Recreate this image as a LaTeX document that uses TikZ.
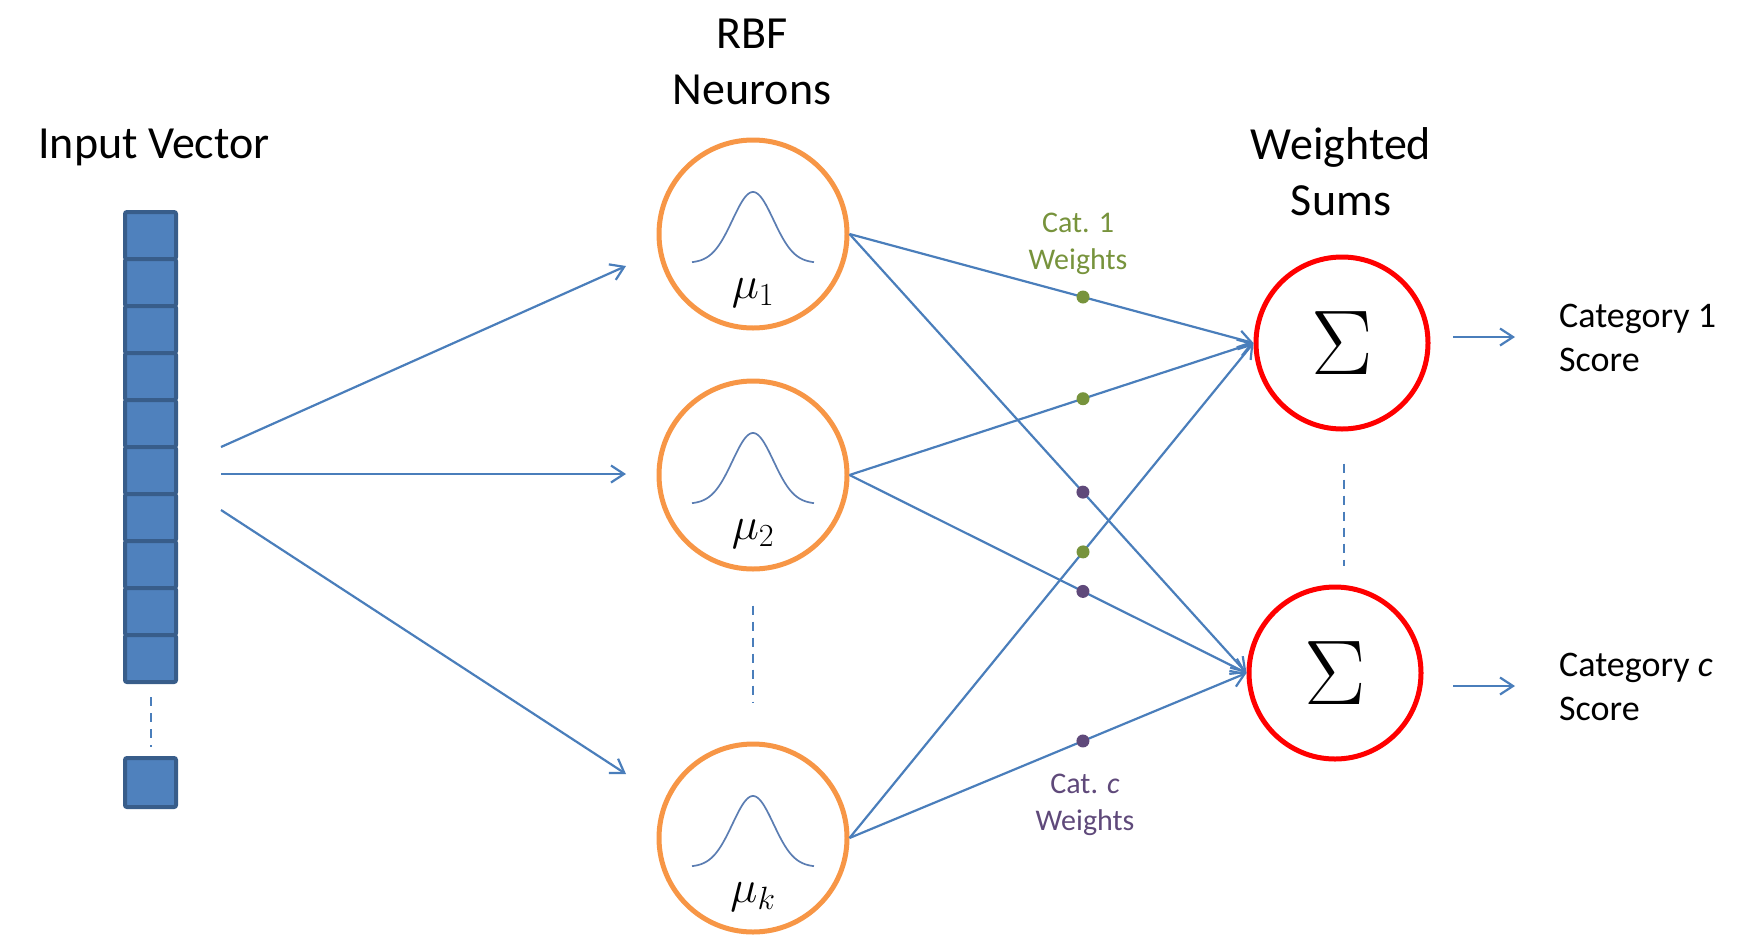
\RequirePackage{fix-cm}
\documentclass[tikz,border=0pt]{standalone}
\usepackage{fontspec}
\setmainfont{Carlito}
\usetikzlibrary{arrows.meta,calc}

\definecolor{linkblue}{HTML}{4A7EBB}
\definecolor{curveblue}{HTML}{5B7DB2}
\definecolor{cellfill}{HTML}{4F81BD}
\definecolor{cellline}{HTML}{385D8A}
\definecolor{rbforange}{HTML}{F79646}
\definecolor{sumred}{HTML}{FF0000}
\definecolor{catgreen}{HTML}{77933C}
\definecolor{catpurple}{HTML}{5F497A}

\tikzset{
  link/.style={draw=linkblue, line width=2.2pt,
    -{Straight Barb[length=13pt,width=17pt,line width=2.2pt]}},
  ellipsis/.style={draw=linkblue, line width=1.6pt, dash pattern=on 9pt off 7pt},
  cell/.style={fill=cellfill, draw=cellline, line width=4pt, rounded corners=2pt},
  rbf/.style={circle, draw=rbforange, line width=5pt, minimum size=188pt, inner sep=0pt},
  sumnode/.style={circle, draw=sumred, line width=5pt, minimum size=172pt, inner sep=0pt,
    font=\fontsize{92}{92}\selectfont},
  gauss/.style={draw=curveblue, line width=1.7pt},
  mulabel/.style={font=\fontsize{46}{46}\selectfont},
  head/.style={font=\fontsize{46}{56}\selectfont, align=center, inner sep=0pt},
  outlabel/.style={font=\fontsize{36}{44}\selectfont, align=left, anchor=west, inner sep=0pt},
  catlabel/.style={font=\fontsize{30}{37}\selectfont, align=center, inner sep=0pt},
  gdot/.style={circle, fill=catgreen, inner sep=0pt, minimum size=13pt},
  pdot/.style={circle, fill=catpurple, inner sep=0pt, minimum size=13pt},
}

\begin{document}
\begin{tikzpicture}[x=1pt, y=-1pt]
\useasboundingbox (0,0) rectangle (1753,935);

% headings
\node[head] (hin)  at (154,147)  {Input Vector};
\node[head] (hrbf) at (752,62)   {RBF\\Neurons};
\node[head] (hsum) at (1341,172) {Weighted\\Sums};

% input vector: ten cells, a gap, and the last cell
\foreach \i in {0,...,9}
  \draw[cell] (125,{212+47*\i}) rectangle (176,{212+47*(\i+1)});
\draw[cell] (125,758) rectangle (176,807);
\coordinate (vtop) at (151,697);
\coordinate (vbot) at (151,747);
\draw[ellipsis] (vtop) -- (vbot);

% RBF neurons
\node[rbf] (r1) at (753,234) {};
\node[rbf] (r2) at (753,475) {};
\node[rbf] (rk) at (753,838) {};
\foreach \n/\lab in {r1/1, r2/2, rk/k} {
  \draw[gauss, shift={(\n.center)}]
    plot[domain=-61:61, samples=90, smooth] ({\x}, {29-71*exp(-((\x/29)^2))});
  \node[mulabel] at ($(\n.center)+(0,59)$) {$\mu_{\lab}$};
}
\draw[ellipsis] ($(r2.south)+(0,34)$) -- ($(rk.north)+(0,-39)$);

% arrows from the input vector to the neurons
\coordinate (a1) at (221,447);  \coordinate (b1) at (626,266);
\coordinate (a2) at (221,474);  \coordinate (b2) at (626,474);
\coordinate (a3) at (221,510);  \coordinate (b3) at (626,774);
\draw[link] (a1) -- (b1);
\draw[link] (a2) -- (b2);
\draw[link] (a3) -- (b3);

% weighted sums
\node[sumnode] (s1) at (1342,343) {$\Sigma$};
\node[sumnode] (s2) at (1335,673) {$\Sigma$};
\coordinate (sdtop) at ($(s1.south)+(2,32)$);
\coordinate (sdbot) at ($(s1.south)+(2,134)$);
\draw[ellipsis] (sdtop) -- (sdbot);

% weighted connections
\draw[link] (r1.east) -- node[pos=.578, gdot] (w11) {} (s1.west);
\draw[link] (r2.east) -- node[pos=.578, gdot] (w21) {} (s1.west);
\draw[link] (rk.east) -- node[pos=.578, gdot] (wk1) {} (s1.west);
\draw[link] (r1.east) -- node[pos=.588, pdot] (w1c) {} (s2.west);
\draw[link] (r2.east) -- node[pos=.588, pdot] (w2c) {} (s2.west);
\draw[link] (rk.east) -- node[pos=.588, pdot] (wkc) {} (s2.west);

\node[catlabel, text=catgreen]  (c1lab) at (1078,244) {Cat. 1\\Weights};
\node[catlabel, text=catpurple] (cclab) at (1085,805) {Cat. \textit{c}\\Weights};

% outputs
\coordinate (o1a) at (1453,337); \coordinate (o1b) at (1515,337);
\coordinate (oca) at (1453,686); \coordinate (ocb) at (1515,686);
\draw[link] (o1a) -- (o1b);
\draw[link] (oca) -- (ocb);
\node[outlabel] (out1) at (1559,338) {Category 1\\Score};
\node[outlabel] (outc) at (1559,687) {Category \textit{c}\\Score};
\end{tikzpicture}
\end{document}
